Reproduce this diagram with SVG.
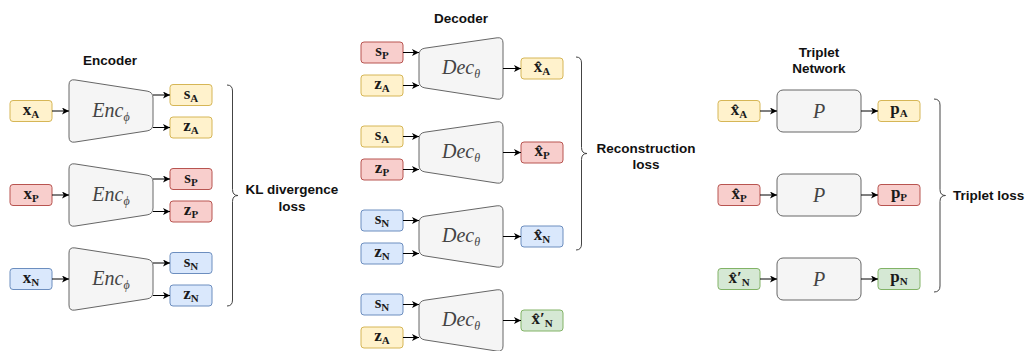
<svg xmlns="http://www.w3.org/2000/svg" width="1028" height="351" viewBox="0 0 1028 351">
<style>
.y{fill:#fff2cc;stroke:#d6b656;stroke-width:1}
.r{fill:#f8cecc;stroke:#b85450;stroke-width:1}
.b{fill:#dae8fc;stroke:#6c8ebf;stroke-width:1}
.g{fill:#d5e8d4;stroke:#82b366;stroke-width:1}
.net{fill:#f5f5f5;stroke:#666666;stroke-width:1}
.lbl{font-family:"Liberation Sans",Arial,sans-serif;font-weight:bold;font-size:13.5px;fill:#111;text-anchor:middle}
.m{font-family:"Liberation Serif","DejaVu Serif",serif;font-weight:bold;font-size:17px;fill:#1a1a1a;text-anchor:middle}
.s{font-size:11px}
.it{font-family:"Liberation Serif","DejaVu Serif",serif;font-style:italic;font-size:20px;fill:#444;text-anchor:middle}
.si{font-size:12px}
.c{stroke:#000;stroke-width:1;fill:none;marker-end:url(#ah)}
.br{stroke:#444;stroke-width:1;fill:none}
</style>
<defs>
<marker id="ah" markerUnits="userSpaceOnUse" markerWidth="8" markerHeight="8" refX="7" refY="3.5" orient="auto">
<path d="M0,0 L7,3.5 L0,7 L1.8,3.5 Z" fill="#000"/>
</marker>
<path id="encShape" d="M69,85 Q69,79 74.9,79.9 L147.1,91.1 Q153,92 153,98 L153,124 Q153,130 147.1,130.9 L74.9,142.1 Q69,143 69,137 Z"/>
<path id="decShape" d="M419,55 Q419,49 424.9,48.2 L497.1,37.8 Q503,37 503,43 L503,94 Q503,100 497.1,99.1 L424.9,87.9 Q419,87 419,81 Z"/>
</defs>

<!-- titles -->
<text class="lbl" x="110" y="65">Encoder</text>
<text class="lbl" x="461" y="23">Decoder</text>
<text class="lbl" x="819" y="57">Triplet</text>
<text class="lbl" x="819" y="73">Network</text>

<!-- Encoder 1 -->
<g id="xA"><rect class="y" x="10" y="100.5" width="42" height="21" rx="3"/><text class="m" x="31" y="115">x<tspan class="s" dy="3">A</tspan></text></g>
<g id="enc1"><use href="#encShape" class="net"/><text class="it" x="111" y="117">Enc<tspan class="si" dy="4">ϕ</tspan></text></g>
<g id="sA"><rect class="y" x="170" y="84.5" width="42" height="21" rx="3"/><text class="m" x="191" y="98.5">s<tspan class="s" dy="3">A</tspan></text></g>
<g id="zA"><rect class="y" x="170" y="117" width="42" height="21" rx="3"/><text class="m" x="191" y="131">z<tspan class="s" dy="3">A</tspan></text></g>

<!-- Encoder 2 -->
<g id="xP"><rect class="r" x="10" y="184.5" width="42" height="21" rx="3"/><text class="m" x="31" y="199">x<tspan class="s" dy="3">P</tspan></text></g>
<g id="enc2" transform="translate(0,84)"><use href="#encShape" class="net"/><text class="it" x="111" y="117">Enc<tspan class="si" dy="4">ϕ</tspan></text></g>
<g id="sP"><rect class="r" x="170" y="168.5" width="42" height="21" rx="3"/><text class="m" x="191" y="182.5">s<tspan class="s" dy="3">P</tspan></text></g>
<g id="zP"><rect class="r" x="170" y="201" width="42" height="21" rx="3"/><text class="m" x="191" y="215">z<tspan class="s" dy="3">P</tspan></text></g>

<!-- Encoder 3 -->
<g id="xN"><rect class="b" x="10" y="268.5" width="42" height="21" rx="3"/><text class="m" x="31" y="283">x<tspan class="s" dy="3">N</tspan></text></g>
<g id="enc3" transform="translate(0,168)"><use href="#encShape" class="net"/><text class="it" x="111" y="117">Enc<tspan class="si" dy="4">ϕ</tspan></text></g>
<g id="sN"><rect class="b" x="170" y="252.5" width="42" height="21" rx="3"/><text class="m" x="191" y="266.5">s<tspan class="s" dy="3">N</tspan></text></g>
<g id="zN"><rect class="b" x="170" y="285" width="42" height="21" rx="3"/><text class="m" x="191" y="299">z<tspan class="s" dy="3">N</tspan></text></g>

<!-- Decoder 1 -->
<g id="d1s"><rect class="r" x="361" y="42" width="42" height="21" rx="3"/><text class="m" x="382" y="56">s<tspan class="s" dy="3">P</tspan></text></g>
<g id="d1z"><rect class="y" x="361" y="75" width="42" height="21" rx="3"/><text class="m" x="382" y="89">z<tspan class="s" dy="3">A</tspan></text></g>
<g id="dec1"><use href="#decShape" class="net"/><text class="it" x="461" y="74">Dec<tspan class="si" dy="4">θ</tspan></text></g>
<g id="xhatA"><rect class="y" x="521" y="58" width="42" height="21" rx="3"/><text class="m" x="542" y="72">x&#x302;<tspan class="s" dy="3">A</tspan></text></g>

<!-- Decoder 2 -->
<g id="d2s"><rect class="y" x="361" y="126" width="42" height="21" rx="3"/><text class="m" x="382" y="140">s<tspan class="s" dy="3">A</tspan></text></g>
<g id="d2z"><rect class="r" x="361" y="159" width="42" height="21" rx="3"/><text class="m" x="382" y="173">z<tspan class="s" dy="3">P</tspan></text></g>
<g id="dec2" transform="translate(0,84)"><use href="#decShape" class="net"/><text class="it" x="461" y="74">Dec<tspan class="si" dy="4">θ</tspan></text></g>
<g id="xhatP"><rect class="r" x="521" y="142" width="42" height="21" rx="3"/><text class="m" x="542" y="156">x&#x302;<tspan class="s" dy="3">P</tspan></text></g>

<!-- Decoder 3 -->
<g id="d3s"><rect class="b" x="361" y="210" width="42" height="21" rx="3"/><text class="m" x="382" y="224">s<tspan class="s" dy="3">N</tspan></text></g>
<g id="d3z"><rect class="b" x="361" y="243" width="42" height="21" rx="3"/><text class="m" x="382" y="257">z<tspan class="s" dy="3">N</tspan></text></g>
<g id="dec3" transform="translate(0,168)"><use href="#decShape" class="net"/><text class="it" x="461" y="74">Dec<tspan class="si" dy="4">θ</tspan></text></g>
<g id="xhatN"><rect class="b" x="521" y="226" width="42" height="21" rx="3"/><text class="m" x="542" y="240">x&#x302;<tspan class="s" dy="3">N</tspan></text></g>

<!-- Decoder 4 -->
<g id="d4s"><rect class="b" x="361" y="294" width="42" height="21" rx="3"/><text class="m" x="382" y="308">s<tspan class="s" dy="3">N</tspan></text></g>
<g id="d4z"><rect class="y" x="361" y="327" width="42" height="21" rx="3"/><text class="m" x="382" y="341">z<tspan class="s" dy="3">A</tspan></text></g>
<g id="dec4" transform="translate(0,252)"><use href="#decShape" class="net"/><text class="it" x="461" y="74">Dec<tspan class="si" dy="4">θ</tspan></text></g>
<g id="xhatNp"><rect class="g" x="521" y="310" width="42" height="21" rx="3"/><text class="m" x="542" y="324">x&#x302;′<tspan class="s" dy="3">N</tspan></text></g>

<!-- Triplet network -->
<g id="tA"><rect class="y" x="718" y="100.5" width="42" height="21" rx="3"/><text class="m" x="739" y="115">x&#x302;<tspan class="s" dy="3">A</tspan></text></g>
<g id="P1"><rect class="net" x="777" y="90" width="84" height="42" rx="6"/><text class="it" x="819" y="118">P</text></g>
<g id="pA"><rect class="y" x="878" y="100.5" width="42" height="21" rx="3"/><text class="m" x="899" y="114">p<tspan class="s" dy="3">A</tspan></text></g>

<g id="tP"><rect class="r" x="718" y="184.5" width="42" height="21" rx="3"/><text class="m" x="739" y="199">x&#x302;<tspan class="s" dy="3">P</tspan></text></g>
<g id="P2"><rect class="net" x="777" y="174" width="84" height="42" rx="6"/><text class="it" x="819" y="202">P</text></g>
<g id="pP"><rect class="r" x="878" y="184.5" width="42" height="21" rx="3"/><text class="m" x="899" y="198">p<tspan class="s" dy="3">P</tspan></text></g>

<g id="tN"><rect class="g" x="718" y="268.5" width="42" height="21" rx="3"/><text class="m" x="739" y="283">x&#x302;′<tspan class="s" dy="3">N</tspan></text></g>
<g id="P3"><rect class="net" x="777" y="258" width="84" height="42" rx="6"/><text class="it" x="819" y="286">P</text></g>
<g id="pN"><rect class="g" x="878" y="268.5" width="42" height="21" rx="3"/><text class="m" x="899" y="282">p<tspan class="s" dy="3">N</tspan></text></g>

<!-- braces and loss labels -->
<g id="klLoss">
<path class="br" d="M227,85 Q232.5,85 232.5,91 L232.5,189.5 Q232.5,195.5 238,195.5 Q232.5,195.5 232.5,201.5 L232.5,300 Q232.5,306 227,306"/>
<text class="lbl" x="292" y="194">KL divergence</text>
<text class="lbl" x="292" y="211">loss</text>
</g>
<g id="recLoss">
<path class="br" d="M576,57 Q581.5,57 581.5,63 L581.5,147.5 Q581.5,153.5 587,153.5 Q581.5,153.5 581.5,159.5 L581.5,244 Q581.5,250 576,250"/>
<text class="lbl" x="646" y="153">Reconstruction</text>
<text class="lbl" x="646" y="169">loss</text>
</g>
<g id="tripLoss">
<path class="br" d="M934,99 Q940,99 940,105 L940,189.5 Q940,195.5 945.5,195.5 Q940,195.5 940,201.5 L940,286 Q940,292 934,292"/>
<text class="lbl" x="953" y="200" style="text-anchor:start">Triplet loss</text>
</g>

<!-- connectors -->
<g id="connectors">
<line class="c" x1="52" y1="111" x2="69" y2="111"/>
<line class="c" x1="153" y1="95" x2="170" y2="95"/>
<line class="c" x1="153" y1="127.5" x2="170" y2="127.5"/>
<line class="c" x1="52" y1="195" x2="69" y2="195"/>
<line class="c" x1="153" y1="179" x2="170" y2="179"/>
<line class="c" x1="153" y1="211.5" x2="170" y2="211.5"/>
<line class="c" x1="52" y1="279" x2="69" y2="279"/>
<line class="c" x1="153" y1="263" x2="170" y2="263"/>
<line class="c" x1="153" y1="295.5" x2="170" y2="295.5"/>

<line class="c" x1="403" y1="52.5" x2="419" y2="52.5"/>
<line class="c" x1="403" y1="85.5" x2="419" y2="85.5"/>
<line class="c" x1="503" y1="68.5" x2="521" y2="68.5"/>
<line class="c" x1="403" y1="136.5" x2="419" y2="136.5"/>
<line class="c" x1="403" y1="169.5" x2="419" y2="169.5"/>
<line class="c" x1="503" y1="152.5" x2="521" y2="152.5"/>
<line class="c" x1="403" y1="220.5" x2="419" y2="220.5"/>
<line class="c" x1="403" y1="253.5" x2="419" y2="253.5"/>
<line class="c" x1="503" y1="236.5" x2="521" y2="236.5"/>
<line class="c" x1="403" y1="304.5" x2="419" y2="304.5"/>
<line class="c" x1="403" y1="337.5" x2="419" y2="337.5"/>
<line class="c" x1="503" y1="320.5" x2="521" y2="320.5"/>

<line class="c" x1="760" y1="111" x2="777" y2="111"/>
<line class="c" x1="861" y1="111" x2="878" y2="111"/>
<line class="c" x1="760" y1="195" x2="777" y2="195"/>
<line class="c" x1="861" y1="195" x2="878" y2="195"/>
<line class="c" x1="760" y1="279" x2="777" y2="279"/>
<line class="c" x1="861" y1="279" x2="878" y2="279"/>
</g>
</svg>
